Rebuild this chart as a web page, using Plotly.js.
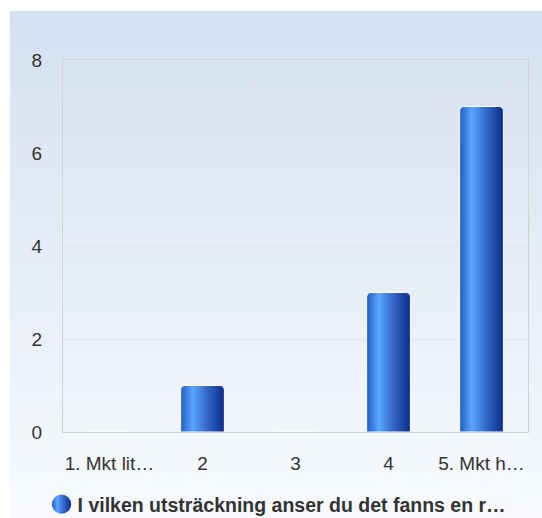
<!DOCTYPE html>
<html>
<head>
<meta charset="utf-8">
<script src="https://cdn.plot.ly/plotly-3.0.1.min.js"></script>
<style>
  html, body { margin: 0; padding: 0; background: #ffffff; }
  #bg { position: absolute; left: 10px; top: 11px; width: 532px; height: 507px;
        background: linear-gradient(to bottom, #d4e0f0 0%, #e6edf7 50%, #f8fafd 100%); }
  #chart { position: absolute; left: 0; top: 0; width: 542px; height: 518px; }
</style>
</head>
<body>
<div id="bg"></div>
<div id="chart"></div>
<script>
const categories = ["1. Mkt lit…", "2", "3", "4", "5. Mkt h…"];
const values = [0, 1, 0, 3, 7];
const seriesName = "I vilken utsträckning anser du det fanns en r…";
const yTicks = [0, 2, 4, 6, 8];

const traces = [
  {
    type: "bar",
    x: categories,
    y: values,
    showlegend: false,
    hoverinfo: "skip",
    marker: { color: "#2f6fd6", line: { color: "#ffffff", width: 1 } }
  },
  {
    type: "scatter",
    mode: "markers",
    x: [null],
    y: [null],
    name: seriesName,
    showlegend: true,
    marker: { symbol: "circle", size: 16, color: "#2f6fd6", line: { width: 0 } }
  }
];

const layout = {
  width: 542,
  height: 518,
  margin: { l: 63, r: 14, t: 60, b: 86, autoexpand: false },
  paper_bgcolor: "rgba(0,0,0,0)",
  plot_bgcolor: "rgba(0,0,0,0)",
  font: { family: "Liberation Sans, Arial, sans-serif", size: 19, color: "#333333" },
  bargap: 0.53,
  barcornerradius: 4,
  xaxis: {
    type: "category",
    showgrid: false,
    showline: true,
    linecolor: "#cfd3d8",
    linewidth: 1,
    mirror: true,
    ticks: "",
    ticklabelstandoff: 14,
    tickfont: { size: 19, color: "#333333" },
    fixedrange: true
  },
  yaxis: {
    range: [0, 8],
    tickvals: yTicks,
    showgrid: true,
    gridcolor: "#e2e4e8",
    showline: true,
    linecolor: "#cfd3d8",
    linewidth: 1,
    mirror: true,
    zeroline: false,
    ticks: "",
    ticklabelstandoff: 16,
    tickfont: { size: 19, color: "#333333" },
    fixedrange: true
  },
  showlegend: true,
  legend: {
    orientation: "h",
    x: 0.455,
    xanchor: "center",
    y: -0.195,
    yanchor: "middle",
    bgcolor: "rgba(0,0,0,0)",
    font: { size: 19.5, color: "#333333", family: "Liberation Sans, Arial, sans-serif", weight: "bold" },
    itemsizing: "trace",
    itemwidth: 30
  }
};

Plotly.newPlot("chart", traces, layout, { displayModeBar: false, staticPlot: true }).then(function (gd) {
  const svg = gd.querySelector("svg.main-svg");
  const ns = "http://www.w3.org/2000/svg";
  let defs = svg.querySelector("defs");
  if (!defs) { defs = document.createElementNS(ns, "defs"); svg.insertBefore(defs, svg.firstChild); }
  const grad = document.createElementNS(ns, "linearGradient");
  grad.setAttribute("id", "barGrad");
  grad.setAttribute("x1", "0"); grad.setAttribute("y1", "0");
  grad.setAttribute("x2", "1"); grad.setAttribute("y2", "0");
  [["0%", "#1f5cc4"], ["28%", "#5aa6ff"], ["60%", "#3468c8"], ["100%", "#0a2c88"]].forEach(function (s) {
    const st = document.createElementNS(ns, "stop");
    st.setAttribute("offset", s[0]);
    st.setAttribute("stop-color", s[1]);
    grad.appendChild(st);
  });
  defs.appendChild(grad);
  gd.querySelectorAll(".bars .point path").forEach(function (p) { p.style.fill = "url(#barGrad)"; });
  gd.querySelectorAll(".legend .legendpoints path").forEach(function (p) {
    p.style.fill = "url(#barGrad)";
    p.setAttribute("transform", "translate(24,0) scale(1.2)");
  });
});
</script>
</body>
</html>
